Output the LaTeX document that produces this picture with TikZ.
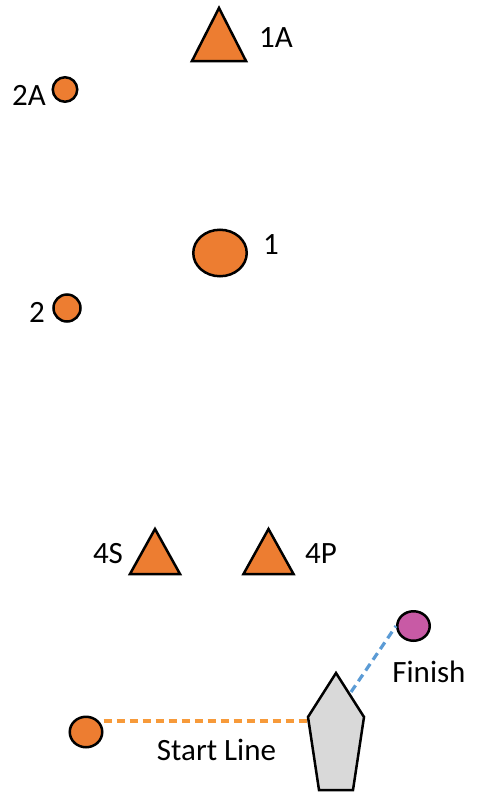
\documentclass[tikz,border=0pt]{standalone}
\usepackage{fontspec}
\setmainfont{Carlito}
\usetikzlibrary{shapes.geometric,positioning}
\definecolor{buoyCol}{HTML}{ED7D31}
\definecolor{startCol}{HTML}{F79A3A}
\definecolor{finCol}{HTML}{5B9BD5}
\definecolor{finBuoyCol}{HTML}{C85AA5}
\definecolor{boatCol}{HTML}{D9D9D9}
\begin{document}
\begin{tikzpicture}[x=0.5pt,y=-0.5pt,every node/.style={font=\fontsize{15.5}{18}\selectfont,inner sep=0pt}]
  \tikzset{mk/.style={draw=black,fill=buoyCol,line width=1.25pt,line join=miter},
    rnd/.style n args={2}{mk,ellipse,minimum width=#1,minimum height=#2},
    lineDash/.style={line width=1.6pt,dash pattern=on 4pt off 2.5pt}}
  \useasboundingbox (0,0) rectangle (478,798);
  % marks
  \foreach \x/\y/\w/\h in {219/61/27/53, 155/574/25/45, 268.5/574/25/45}
    \draw[mk] (\x-\w,\y) -- (\x+\w,\y) -- (\x,\y-\h) -- cycle;
  \node[rnd={12.25pt}{12.25pt}] (m2A) at (65,89.5){};
  \node[rnd={26.75pt}{23.25pt}] (m1) at (220,253){};
  \node[rnd={13.5pt}{13.5pt}] (m2) at (67,308){};
  \node[rnd={16.25pt}{15.25pt}] (start) at (86,732){};
  \node[rnd={16.25pt}{14.75pt},fill=finBuoyCol] (finish) at (413.5,626){};
  % labels
  \node (l1A) at (276,38){1A};
  \node (l2A) at (29,95){2A};
  \node (l1) at (271,245){1};
  \node (l2) at (37,312){2};
  \node (l4S) at (108,554){4S};
  \node (l4P) at (321,554){4P};
  \node (lFin) at (429,672){Finish};
  \node (lStart) at (216.5,750){Start Line};
  % committee boat and lines
  \coordinate (bow) at (336,673);
  \coordinate (stbdSh) at (364,717);
  \coordinate (stbdSt) at (353,790);
  \coordinate (portSt) at (319,790);
  \coordinate (portSh) at (308,717);
  \coordinate (portP) at (308,721);
  \coordinate (stbdP) at (351,692);
  \draw[lineDash,startCol] (start.east |- portP) -- (portP);
  \draw[lineDash,finCol] (stbdP) -- (finish.west);
  \draw[mk,fill=boatCol] (bow) -- (stbdSh) -- (stbdSt) -- (portSt) -- (portSh) -- cycle;
\end{tikzpicture}
\end{document}
